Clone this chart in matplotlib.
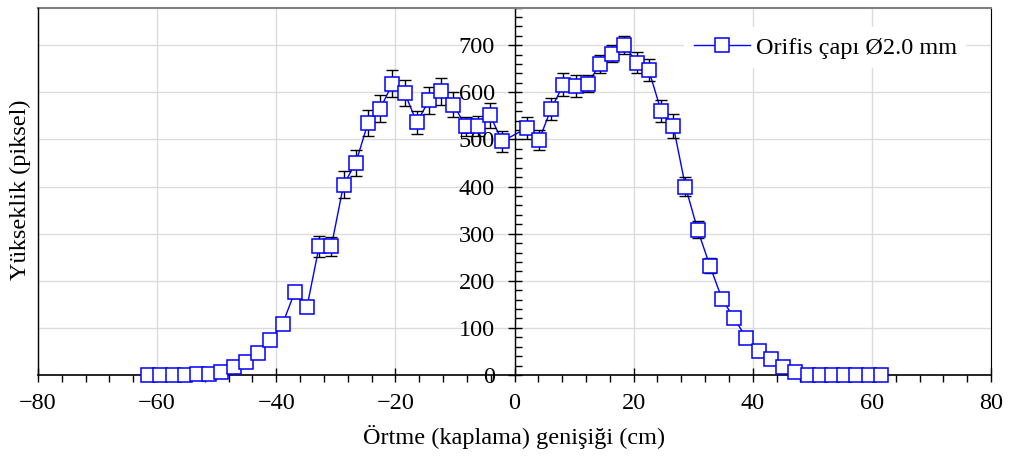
import numpy as np
import matplotlib
matplotlib.use("Agg")
import matplotlib.pyplot as plt
from matplotlib.ticker import MultipleLocator

plt.rcParams['font.family'] = ['Liberation Serif', 'DejaVu Serif']

# ---- data ----
x_left = [-61.5, -59.45, -57.4, -55.35, -53.3, -51.25, -49.2, -47.15, -45.1, -43.05,
          -41.0, -38.95, -36.9, -34.85, -32.8, -30.75, -28.7, -26.65, -24.6, -22.55,
          -20.5, -18.45, -16.4, -14.35, -12.3, -10.25, -8.2, -6.15, -4.1, -2.05]
x_right = [2.05, 4.1, 6.15, 8.2, 10.25, 12.3, 14.35, 16.4, 18.45, 20.5,
           22.55, 24.6, 26.65, 28.7, 30.75, 32.8, 34.85, 36.9, 38.95, 41.0,
           43.05, 45.1, 47.15, 49.2, 51.25, 53.3, 55.35, 57.4, 59.45, 61.5]
y_left = [0, 0, 0, 0, 1.5, 2, 5.5, 17.7, 28, 46,
          74, 108, 176, 144, 273, 273, 404, 450, 535, 565,
          618, 599, 536, 583, 602, 574, 528, 528, 551, 496]
y_right = [524, 498, 565, 616, 613, 618, 660, 682, 701, 663,
           647, 561, 529, 400, 308, 232, 161, 120, 78, 52,
           33, 17, 7, 0, 0, 0, 0, 0, 0, 0]
err_left = [0, 0, 0, 0, 0, 0, 0, 0, 0, 0,
            0, 0, 12, 0, 23, 20, 28, 27, 28, 29,
            29, 28, 24, 28, 29, 27, 20, 21, 27, 22]
err_right = [24, 21, 23, 24, 23, 18, 20, 18, 19, 22,
             23, 23, 25, 21, 18, 16, 0, 0, 0, 0,
             0, 0, 0, 0, 0, 0, 0, 0, 0, 0]
series_label = "Orifis çapı Ø2.0 mm"
x_label = "Örtme (kaplama) genişiği (cm)"
y_label = "Yükseklik (piksel)"

x = np.array(x_left + x_right)
y = np.array(y_left + y_right, dtype=float)
err = np.array(err_left + err_right, dtype=float)

FS = 17.5
W, H = 1014, 457
fig = plt.figure(figsize=(W / 100, H / 100), dpi=100)
ax = fig.add_axes([38 / W, (H - 375) / H, 953 / W, 367.5 / H])

ax.set_xlim(-80, 80)
ax.set_ylim(0, 780)

blue = '#0000ff'
m = err > 0
ax.errorbar(x[m], y[m], yerr=err[m], fmt='none', ecolor='black',
            elinewidth=1.0, capsize=4.2, capthick=1.0, zorder=3, clip_on=False)
ax.plot(x, y, '-', color=blue, lw=1.0, zorder=2.5, clip_on=False)
ax.plot(x, y, 's', ms=9.5, mfc='white', mec=blue, mew=1.1, zorder=4,
        clip_on=False)
# legend proxy via same style
ax.plot([], [], '-s', color=blue, lw=1.0, ms=9.5, mfc='white', mec=blue,
        mew=1.1, label=series_label)

# grid
ax.set_axisbelow(True)
ax.xaxis.set_major_locator(MultipleLocator(20))
ax.xaxis.set_minor_locator(MultipleLocator(4))
ax.yaxis.set_major_locator(MultipleLocator(100))
ax.yaxis.set_minor_locator(MultipleLocator(20))
ax.grid(True, which='major', color='#dcdcdc', lw=1.0)

# y axis at x = 0
ax.spines['left'].set_position(('data', 0))
ax.spines['left'].set_color('black')
ax.spines['left'].set_linewidth(1.0)
ax.spines['top'].set_color('#808080')
ax.spines['top'].set_linewidth(1.5)
ax.spines['right'].set_color('black')
ax.spines['bottom'].set_color('black')
ax.spines['bottom'].set_linewidth(1.2)
# left frame edge
ax.plot([0, 0], [0, 1], transform=ax.transAxes, color='black', lw=1.0,
        clip_on=False, zorder=5)

ax.set_yticks(np.arange(0, 701, 100))
ax.tick_params(axis='x', which='major', direction='inout', length=10, width=1,
               pad=8, labelsize=FS)
ax.tick_params(axis='x', which='minor', direction='out', length=5, width=1)
ax.tick_params(axis='y', which='major', direction='inout', length=10, width=1,
               pad=9, labelsize=FS)
ax.tick_params(axis='y', which='minor', direction='in', length=5, width=1)

fig.text(514 / W, 1 - 437 / H, x_label, ha='center', va='center', fontsize=FS)
fig.text(20 / W, 1 - 190 / H, y_label, ha='center', va='center', fontsize=FS,
         rotation=90)

leg = ax.legend(loc='center', bbox_to_anchor=(0.826, 0.891), fontsize=FS,
                frameon=True, fancybox=False, framealpha=1, facecolor='white',
                edgecolor='none', handlelength=2.3, handletextpad=0.25,
                borderpad=0.4)
leg.set_zorder(6)

fig.savefig('out.png', dpi=100)
